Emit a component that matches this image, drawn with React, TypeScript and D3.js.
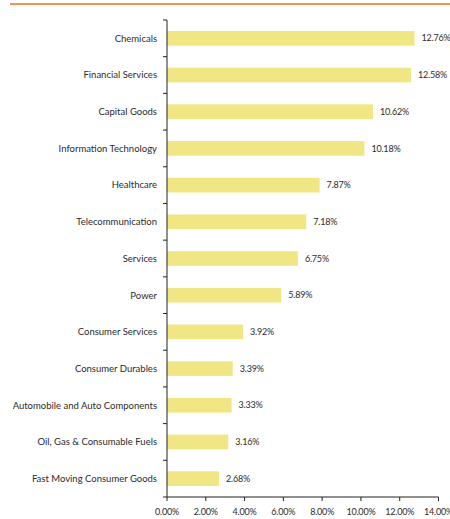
import React from "react";
import * as d3 from "d3";

const categories = [
  "Chemicals",
  "Financial Services",
  "Capital Goods",
  "Information Technology",
  "Healthcare",
  "Telecommunication",
  "Services",
  "Power",
  "Consumer Services",
  "Consumer Durables",
  "Automobile and Auto Components",
  "Oil, Gas & Consumable Fuels",
  "Fast Moving Consumer Goods",
];
const values = [12.76, 12.58, 10.62, 10.18, 7.87, 7.18, 6.75, 5.89, 3.92, 3.39, 3.33, 3.16, 2.68];
const xTicks = [0, 2, 4, 6, 8, 10, 12, 14];

const W = 450;
const H = 519;
const LEFT = 167;
const RIGHT = 438.5;
const TOP = 20;
const BOTTOM = 497;
const BAR_COLOR = "#F0E784";
const TEXT = "#2b2b2b";
const FONT = "Lato, 'Open Sans', sans-serif";

export default function App() {
  const x = d3.scaleLinear().domain([0, 14]).range([LEFT, RIGHT]);
  const y = d3.scaleBand<string>().domain(categories).range([TOP, BOTTOM]).paddingInner(0.6).paddingOuter(0.3);
  const bandStep = (BOTTOM - TOP) / categories.length;
  const boundaries = d3.range(categories.length + 1).map((i) => TOP + i * bandStep);

  return (
    <svg width={W} height={H} style={{ position: "absolute", left: 0, top: 0 }} fontFamily={FONT}>
      <rect width={W} height={H} fill="#fff" />
      {/* orange rule on top */}
      <line x1={10} x2={W} y1={4} y2={4} stroke="#F26B21" strokeWidth={1.5} />

      {/* bars */}
      {categories.map((c, i) => (
        <g key={c}>
          <rect x={x(0)} y={y(c)} width={x(values[i]) - x(0)} height={y.bandwidth()} fill={BAR_COLOR} />
          <text
            x={x(values[i]) + 7}
            y={(y(c) ?? 0) + y.bandwidth() / 2}
            dy="0.35em"
            fontSize={9}
            letterSpacing={-0.2}
            fill={TEXT}
          >
            {values[i].toFixed(2)}%
          </text>
          <text
            x={LEFT - 10}
            y={(y(c) ?? 0) + y.bandwidth() / 2}
            dy="0.35em"
            fontSize={9.5}
            textAnchor="end"
            fill={TEXT}
          >
            {c}
          </text>
        </g>
      ))}

      {/* y axis */}
      <line x1={LEFT} x2={LEFT} y1={TOP} y2={BOTTOM} stroke="#222" strokeWidth={1} />
      {boundaries.map((b, i) => (
        <line key={i} x1={LEFT - 4} x2={LEFT} y1={b} y2={b} stroke="#222" strokeWidth={1} />
      ))}

      {/* x axis */}
      <line x1={LEFT} x2={RIGHT} y1={BOTTOM} y2={BOTTOM} stroke="#222" strokeWidth={1} />
      {xTicks.map((t) => (
        <g key={t}>
          <line x1={x(t)} x2={x(t)} y1={BOTTOM} y2={BOTTOM + 4} stroke="#222" strokeWidth={1} />
          <text x={x(t)} y={BOTTOM + 18} textAnchor="middle" fontSize={9} letterSpacing={-0.2} fill={TEXT}>
            {t.toFixed(2)}%
          </text>
        </g>
      ))}
    </svg>
  );
}
